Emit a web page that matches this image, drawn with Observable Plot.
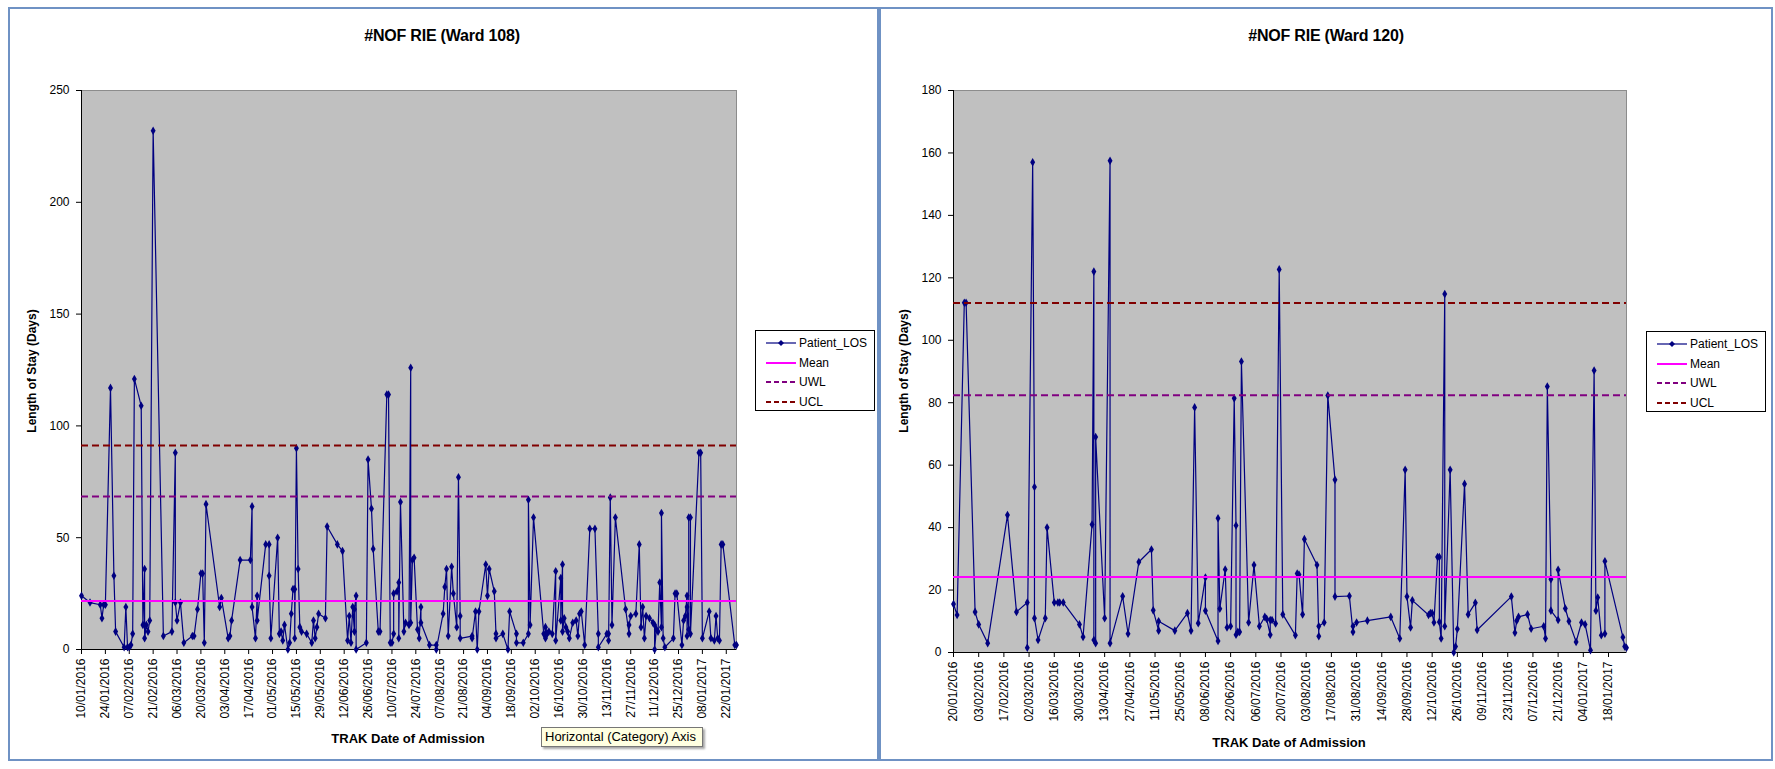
<!DOCTYPE html>
<html>
<head>
<meta charset="utf-8">
<script src="https://cdn.jsdelivr.net/npm/d3@7"></script>
<script src="https://cdn.jsdelivr.net/npm/@observablehq/plot@0.6"></script>
<style>
  html, body { margin: 0; padding: 0; background: #fff; }
  body { width: 1775px; height: 769px; position: relative; overflow: hidden; font-family: "Liberation Sans", Arial, sans-serif; }
  .panel { position: absolute; top: 7px; height: 754px; border: 2px solid #6f92c4; box-sizing: border-box; background: #fff; }
  .abs { position: absolute; white-space: nowrap; }
  .title { font-weight: bold; font-size: 16px; transform: translate(-50%, -50%); letter-spacing: -0.2px; }
  .ytitle { font-weight: bold; font-size: 12px; transform: translate(-50%, -50%) rotate(-90deg); }
  .xtitle { font-weight: bold; font-size: 13px; transform: translate(-50%, -50%); }
  .legend { position: absolute; width: 120px; height: 81px; border: 1px solid #000; background: #fff; box-sizing: border-box; font-size: 12px; }
  .legend .row { position: absolute; left: 10px; height: 16px; }
  .legend .row svg { position: absolute; left: 0; top: 0; }
  .legend .row span { position: absolute; left: 33px; top: 0; line-height: 16px; }
  .tip { position: absolute; left: 541px; top: 727px; width: 162px; height: 20px; background: #ffffe1; border: 1px solid #767676; box-sizing: border-box; font-size: 13px; line-height: 18px; padding-left: 3px; box-shadow: 2px 2px 2px rgba(0,0,0,0.35); }
  svg.plot-svg { position: absolute; top: 70px; background: transparent; overflow: visible; }
</style>
</head>
<body>
<div class="panel" style="left:8px; width:871px;"></div>
<div class="panel" style="left:879px; width:894px;"></div>
<div id="root"></div>
<script>
// ---------- DATA ----------
const ward108Title = "#NOF RIE (Ward 108)";
const ward120Title = "#NOF RIE (Ward 120)";
const yAxisTitle = "Length of Stay (Days)";
const xAxisTitle = "TRAK Date of Admission";
const legendNames = ["Patient_LOS", "Mean", "UWL", "UCL"];

const ward108Limits = [21.7, 68.4, 91.2];   // Mean, UWL, UCL
const ward120Limits = [24.2, 82.4, 111.9];

const ward108YTicks = [0, 50, 100, 150, 200, 250];
const ward120YTicks = [0, 20, 40, 60, 80, 100, 120, 140, 160, 180];

const ward108Range = ["2016-01-10", "2017-01-28"];
const ward120Range = ["2016-01-20", "2017-01-28"];

const ward108XTicks = ["2016-01-10","2016-01-24","2016-02-07","2016-02-21","2016-03-06","2016-03-20","2016-04-03","2016-04-17","2016-05-01","2016-05-15","2016-05-29","2016-06-12","2016-06-26","2016-07-10","2016-07-24","2016-08-07","2016-08-21","2016-09-04","2016-09-18","2016-10-02","2016-10-16","2016-10-30","2016-11-13","2016-11-27","2016-12-11","2016-12-25","2017-01-08","2017-01-22"];
const ward120XTicks = ["2016-01-20","2016-02-03","2016-02-17","2016-03-02","2016-03-16","2016-03-30","2016-04-13","2016-04-27","2016-05-11","2016-05-25","2016-06-08","2016-06-22","2016-07-06","2016-07-20","2016-08-03","2016-08-17","2016-08-31","2016-09-14","2016-09-28","2016-10-12","2016-10-26","2016-11-09","2016-11-23","2016-12-07","2016-12-21","2017-01-04","2017-01-18"];

const ward108Points = [
["2016-01-10",24],["2016-01-15",21],["2016-01-21",20],["2016-01-22",14],["2016-01-23",20],["2016-01-24",20],
["2016-01-27",117],["2016-01-29",33],["2016-01-30",8],["2016-02-04",1],["2016-02-05",19],["2016-02-06",1],
["2016-02-07",1],["2016-02-08",2],["2016-02-09",7],["2016-02-10",121],["2016-02-14",109],["2016-02-15",11],
["2016-02-16",36],["2016-02-16",5],["2016-02-17",11],["2016-02-18",8],["2016-02-19",13],["2016-02-21",232],
["2016-02-27",6],["2016-03-03",8],["2016-03-05",88],["2016-03-05",21],["2016-03-06",13],["2016-03-08",21],
["2016-03-10",3],["2016-03-15",6],["2016-03-16",6],["2016-03-18",18],["2016-03-20",34],["2016-03-21",34],
["2016-03-22",3],["2016-03-23",65],["2016-03-31",19],["2016-04-01",23],["2016-04-05",5],["2016-04-06",6],
["2016-04-07",13],["2016-04-12",40],["2016-04-18",40],["2016-04-19",64],["2016-04-19",19],["2016-04-21",5],
["2016-04-22",24],["2016-04-22",13],["2016-04-27",47],["2016-04-29",47],["2016-04-29",33],["2016-04-30",5],
["2016-05-04",50],["2016-05-05",7],["2016-05-06",8],["2016-05-07",4],["2016-05-08",11],["2016-05-10",0],
["2016-05-11",3],["2016-05-12",16],["2016-05-13",27],["2016-05-14",27],["2016-05-14",5],["2016-05-15",90],
["2016-05-16",36],["2016-05-17",10],["2016-05-18",8],["2016-05-21",7],["2016-05-24",3],["2016-05-25",13],
["2016-05-26",5],["2016-05-27",10],["2016-05-28",16],["2016-06-01",14],["2016-06-02",55],["2016-06-08",47],
["2016-06-11",44],["2016-06-14",4],["2016-06-15",15],["2016-06-16",3],["2016-06-17",19],["2016-06-18",8],
["2016-06-18",18],["2016-06-19",24],["2016-06-19",0],["2016-06-25",3],["2016-06-26",85],["2016-06-28",63],
["2016-06-29",45],["2016-07-02",8],["2016-07-03",8],["2016-07-07",114],["2016-07-08",114],["2016-07-09",3],
["2016-07-10",3],["2016-07-11",7],["2016-07-11",25],["2016-07-13",26],["2016-07-14",30],["2016-07-14",5],
["2016-07-15",66],["2016-07-17",8],["2016-07-18",12],["2016-07-20",11],["2016-07-21",126],["2016-07-21",12],
["2016-07-22",40],["2016-07-23",41],["2016-07-25",9],["2016-07-26",5],["2016-07-27",19],["2016-07-27",12],
["2016-08-01",2],["2016-08-05",2],["2016-08-05",0],["2016-08-09",16],["2016-08-10",28],["2016-08-11",36],
["2016-08-12",6],["2016-08-14",37],["2016-08-15",25],["2016-08-17",10],["2016-08-18",77],["2016-08-19",15],
["2016-08-19",5],["2016-08-26",6],["2016-08-26",5],["2016-08-28",17],["2016-08-29",0],["2016-08-30",17],
["2016-09-03",38],["2016-09-04",24],["2016-09-05",36],["2016-09-08",26],["2016-09-09",7],["2016-09-09",5],
["2016-09-13",7],["2016-09-16",0],["2016-09-17",17],["2016-09-21",7],["2016-09-21",3],["2016-09-25",3],
["2016-09-28",7],["2016-09-28",67],["2016-09-29",11],["2016-10-01",59],["2016-10-07",7],["2016-10-08",5],
["2016-10-08",10],["2016-10-09",7],["2016-10-10",8],["2016-10-12",7],["2016-10-14",35],["2016-10-14",4],
["2016-10-17",32],["2016-10-17",13],["2016-10-18",38],["2016-10-18",8],["2016-10-19",14],["2016-10-20",10],
["2016-10-21",8],["2016-10-22",5],["2016-10-24",12],["2016-10-26",13],["2016-10-27",6],["2016-10-28",16],
["2016-10-29",17],["2016-10-31",2],["2016-11-03",54],["2016-11-06",54],["2016-11-08",7],["2016-11-08",1],
["2016-11-13",7],["2016-11-14",7],["2016-11-14",4],["2016-11-15",68],["2016-11-16",11],["2016-11-18",59],
["2016-11-24",18],["2016-11-26",7],["2016-11-26",11],["2016-11-27",15],["2016-11-30",16],["2016-12-02",47],
["2016-12-03",10],["2016-12-04",19],["2016-12-05",5],["2016-12-06",15],["2016-12-08",14],["2016-12-10",12],
["2016-12-11",11],["2016-12-11",0],["2016-12-12",9],["2016-12-13",8],["2016-12-14",30],["2016-12-15",10],
["2016-12-15",61],["2016-12-16",5],["2016-12-17",1],["2016-12-22",5],["2016-12-23",25],["2016-12-24",25],
["2016-12-27",2],["2016-12-28",13],["2016-12-29",15],["2016-12-30",24],["2016-12-30",6],["2016-12-30",19],
["2016-12-31",9],["2016-12-31",59],["2017-01-01",59],["2017-01-01",7],["2017-01-06",88],["2017-01-07",88],
["2017-01-08",5],["2017-01-12",17],["2017-01-13",5],["2017-01-15",4],["2017-01-16",15],["2017-01-17",5],
["2017-01-18",4],["2017-01-19",47],["2017-01-20",47],["2017-01-27",2],["2017-01-28",2]
];

const ward120Points = [
["2016-01-20",15.5],["2016-01-22",12],["2016-01-26",112],["2016-01-27",112],["2016-02-01",13],["2016-02-03",9],
["2016-02-08",3],["2016-02-19",44],["2016-02-24",13],["2016-03-01",16],["2016-03-01",1.5],["2016-03-04",157],
["2016-03-05",53],["2016-03-05",11],["2016-03-07",4],["2016-03-11",11],["2016-03-12",40],["2016-03-16",16],
["2016-03-18",16],["2016-03-19",16],["2016-03-21",16],["2016-03-30",9],["2016-04-01",5],["2016-04-06",41],
["2016-04-07",122],["2016-04-07",4],["2016-04-08",3],["2016-04-08",69],["2016-04-13",11],["2016-04-16",157.5],
["2016-04-16",3],["2016-04-23",18],["2016-04-26",6],["2016-05-02",29],["2016-05-09",33],["2016-05-10",13.5],
["2016-05-13",7],["2016-05-13",10],["2016-05-22",7],["2016-05-29",12.6],["2016-05-31",7],["2016-06-02",78.5],
["2016-06-04",9.4],["2016-06-08",24],["2016-06-08",13.4],["2016-06-15",3.7],["2016-06-15",43],["2016-06-16",14],
["2016-06-19",26.6],["2016-06-20",8],["2016-06-22",8.4],["2016-06-24",81.4],["2016-06-25",40.7],["2016-06-25",5.7],
["2016-06-26",6.6],["2016-06-27",6.6],["2016-06-28",93.2],["2016-07-02",9.6],["2016-07-05",28],["2016-07-08",8.4],
["2016-07-11",11.4],["2016-07-12",10.8],["2016-07-14",5.7],["2016-07-14",10.4],["2016-07-15",10.4],["2016-07-17",9.3],
["2016-07-19",122.7],["2016-07-21",12.2],["2016-07-28",5.5],["2016-07-29",25.3],["2016-07-30",25],["2016-08-01",12.2],
["2016-08-02",36.3],["2016-08-09",28],["2016-08-10",5.2],["2016-08-10",8.4],["2016-08-13",9.6],["2016-08-15",82.3],
["2016-08-19",55.3],["2016-08-19",17.9],["2016-08-27",18.1],["2016-08-29",6.6],["2016-08-29",8.4],["2016-08-31",9.6],
["2016-09-06",10.2],["2016-09-19",11.4],["2016-09-24",4.5],["2016-09-27",58.5],["2016-09-28",17.9],["2016-09-30",8],
["2016-10-01",16.7],["2016-10-10",12],["2016-10-11",12.6],["2016-10-12",12.6],["2016-10-13",9.6],["2016-10-15",30.6],
["2016-10-16",30.6],["2016-10-16",9.8],["2016-10-17",4.5],["2016-10-19",114.8],["2016-10-19",8.4],["2016-10-22",58.5],
["2016-10-24",0],["2016-10-25",1.9],["2016-10-26",7.5],["2016-10-30",54],["2016-11-01",12.2],["2016-11-05",15.9],
["2016-11-06",7.2],["2016-11-25",17.9],["2016-11-27",6.3],["2016-11-28",10.2],["2016-11-29",11.4],["2016-12-04",12.2],
["2016-12-06",7.6],["2016-12-13",8.4],["2016-12-14",4.5],["2016-12-15",85.2],["2016-12-17",23.5],["2016-12-17",13.4],
["2016-12-21",10.4],["2016-12-21",26.5],["2016-12-25",14.1],["2016-12-27",10],["2016-12-31",3.4],["2017-01-03",9.6],
["2017-01-05",9],["2017-01-08",0.7],["2017-01-10",90.3],["2017-01-11",13.4],["2017-01-12",17.6],["2017-01-14",5.5],
["2017-01-16",6],["2017-01-16",29.2],["2017-01-26",4.9],["2017-01-27",1.9],["2017-01-28",1.5]
];

// ---------- DRAW ----------
const parse = d3.utcParse("%Y-%m-%d");
const root = document.getElementById("root");
const NAVY = "#000080", MEAN = "#ff00ff", UWL = "#800080", UCL = "#800000";

function chart(points, range, xticks, yticks, limits, layout) {
  const data = points.map(([d, v]) => ({date: parse(d), los: v}));
  const start = range.slice(0, 1).map(parse);
  const svg = Plot.plot({
    width: layout.width,
    height: layout.height,
    marginLeft: layout.ml,
    marginRight: layout.mr,
    marginTop: 20,
    marginBottom: layout.height - 20 - layout.ph,
    style: {background: "transparent", fontFamily: "Liberation Sans, Arial, sans-serif", fontSize: "12px", color: "#000", overflow: "visible"},
    x: {type: "utc", domain: range.map(parse), ticks: xticks.map(parse), tickFormat: d3.utcFormat("%d/%m/%Y"), tickRotate: -90, tickSize: 5, tickPadding: 4, label: null},
    y: {domain: [yticks[0], yticks[yticks.length - 1]], ticks: yticks, tickSize: 5, tickPadding: 7, label: null},
    marks: [
      Plot.frame({fill: "#c0c0c0", stroke: "#8c8c8c"}),
      Plot.ruleY(yticks.slice(0, 1), {stroke: "#000", strokeWidth: 1}),
      Plot.ruleX(start, {stroke: "#000", strokeWidth: 1}),
      Plot.line(data, {x: "date", y: "los", stroke: NAVY, strokeWidth: 1.2}),
      Plot.dot(data, {x: "date", y: "los", symbol: "diamond", r: 2.6, fill: NAVY, stroke: "none"}),
      Plot.ruleY(limits.slice(0, 1), {stroke: MEAN, strokeWidth: 2}),
      Plot.ruleY(limits.slice(1, 2), {stroke: UWL, strokeWidth: 2, strokeDasharray: "7,4"}),
      Plot.ruleY(limits.slice(2, 3), {stroke: UCL, strokeWidth: 2, strokeDasharray: "7,4"})
    ]
  });
  svg.classList.add("plot-svg");
  svg.style.left = layout.left + "px";
  root.appendChild(svg);
}

function text(cls, str, x, y) {
  const el = document.createElement("div");
  el.className = "abs " + cls;
  el.textContent = str;
  el.style.left = x + "px";
  el.style.top = y + "px";
  root.appendChild(el);
}

function legend(x, y) {
  const box = document.createElement("div");
  box.className = "legend";
  box.style.left = x + "px";
  box.style.top = y + "px";
  const styles = [
    {c: NAVY, dash: null, w: 1.2, marker: true},
    {c: MEAN, dash: null, w: 2, marker: false},
    {c: UWL, dash: "5,3", w: 2, marker: false},
    {c: UCL, dash: "5,3", w: 2, marker: false}
  ];
  legendNames.forEach((name, i) => {
    const s = styles[i];
    const row = document.createElement("div");
    row.className = "row";
    row.style.top = (4 + i * 19.5) + "px";
    row.innerHTML =
      `<svg width="32" height="16"><line x1="0" x2="30" y1="8" y2="8" stroke="${s.c}" stroke-width="${s.w}" ${s.dash ? `stroke-dasharray="${s.dash}"` : ""}/>` +
      (s.marker ? `<path d="M15,5 L18,8 L15,11 L12,8 Z" fill="${s.c}"/>` : "") +
      `</svg><span>${name}</span>`;
    box.appendChild(row);
  });
  root.appendChild(box);
}

// Ward 108 (left)
chart(ward108Points, ward108Range, ward108XTicks, ward108YTicks, ward108Limits,
  {left: 0, width: 760, height: 680, ml: 81, mr: 24, ph: 559});
// Ward 120 (right)
chart(ward120Points, ward120Range, ward120XTicks, ward120YTicks, ward120Limits,
  {left: 870, width: 780, height: 682, ml: 83, mr: 24, ph: 562});

text("title", ward108Title, 442, 36);
text("title", ward120Title, 1326, 36);
text("ytitle", yAxisTitle, 32, 371);
text("ytitle", yAxisTitle, 904, 371);
text("xtitle", xAxisTitle, 408, 738);
text("xtitle", xAxisTitle, 1289, 742);
legend(755, 330);
legend(1646, 331);

const tip = document.createElement("div");
tip.className = "tip";
tip.textContent = "Horizontal (Category) Axis";
root.appendChild(tip);
</script>
</body>
</html>
